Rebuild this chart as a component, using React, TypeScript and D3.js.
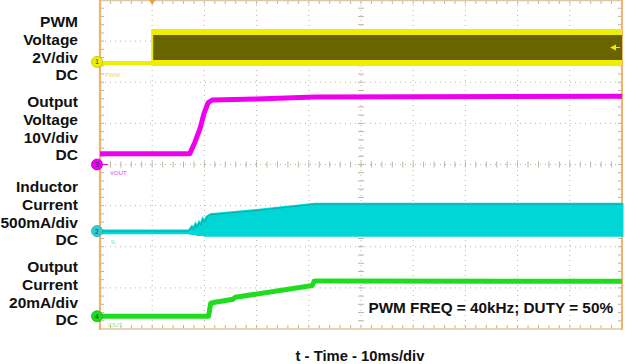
import React from "react";
import * as d3 from "d3";

// ---- Data (time in ms, 10 ms/div) ----
const pwmStart = 10; // ms
const pwmLowV = 0;
const pwmHighV = 1.5;

const voutTimes = [0, 17.2, 18.2, 19.2, 19.9, 20.7, 21.5, 30, 41.2, 60, 100];
const voutValues = [2.6, 2.6, 5.5, 8.9, 12.3, 15.0, 15.7, 15.9, 16.4, 16.5, 16.6];

const ilTimes = [0, 17.0, 17.6, 17.9, 18.3, 18.6, 19.0, 19.3, 19.7, 20.0, 20.5, 21.2, 30, 41.2, 100];
const ilMax = [0.0, 0.0, 0.05, 0.02, 0.08, 0.04, 0.1, 0.07, 0.14, 0.11, 0.17, 0.2, 0.25, 0.328, 0.328];
const ilMin = [-0.02, -0.02, -0.03, -0.03, -0.03, -0.04, -0.04, -0.04, -0.04, -0.05, -0.05, -0.05, -0.05, -0.05, -0.05];

const ioutTimes = [0, 20.8, 21.2, 22.0, 25.5, 25.9, 40.7, 41.0, 41.5, 100];
const ioutValues = [0, 0, 6.3, 6.8, 8.3, 9.2, 15.0, 17.0, 17.2, 17.0];

const channelLabels = [
  ["PWM", "Voltage", "2V/div", "DC"],
  ["Output", "Voltage", "10V/div", "DC"],
  ["Inductor", "Current", "500mA/div", "DC"],
  ["Output", "Current", "20mA/div", "DC"],
];
const labelTops = [27, 107, 192, 272];
const annotation = "PWM FREQ = 40kHz; DUTY = 50%";
const xTitle = "t - Time - 10ms/div";

// channel settings: units/div and ground position (div from center)
const CH_PWM = { perDiv: 2, offset: 2.47 };
const CH_VOUT = { perDiv: 10, offset: 0 };
const CH_IL = { perDiv: 0.5, offset: -1.62 };
const CH_IOUT = { perDiv: 20, offset: -3.69 };

const W = 625;
const H = 364;
const X0 = 100;
const X1 = 622;
const Y0 = 0;
const Y1 = 329;

const FONT = "'Liberation Sans', Arial, Helvetica, sans-serif";

export default function App() {
  const x = d3.scaleLinear().domain([0, 100]).range([X0, X1]);
  const yDiv = d3.scaleLinear().domain([-4, 4]).range([Y1, Y0]);
  const yCh = (ch: { perDiv: number; offset: number }) => (v: number) =>
    yDiv(ch.offset + v / ch.perDiv);

  const yP = yCh(CH_PWM);
  const yV = yCh(CH_VOUT);
  const yI = yCh(CH_IL);
  const yO = yCh(CH_IOUT);

  const grid: JSX.Element[] = [];
  const gridColor = "#bdb5a6";
  for (let i = 1; i < 10; i++) {
    const gx = x(i * 10);
    grid.push(
      <line key={"gv" + i} x1={gx} x2={gx} y1={Y0} y2={Y1} stroke={gridColor} strokeWidth={1} strokeDasharray="1,4" />
    );
  }
  for (let j = -3; j <= 3; j++) {
    const gy = yDiv(j);
    grid.push(
      <line key={"gh" + j} x1={X0} x2={X1} y1={gy} y2={gy} stroke={gridColor} strokeWidth={1} strokeDasharray="1,4" />
    );
  }
  const cx = x(50);
  const cy = yDiv(0);
  for (let k = 1; k < 50; k++) {
    const tx = x(k * 2);
    grid.push(<line key={"tc" + k} x1={tx} x2={tx} y1={cy - 3} y2={cy + 3} stroke={gridColor} strokeWidth={1} />);
    grid.push(<line key={"tt" + k} x1={tx} x2={tx} y1={Y0} y2={Y0 + 4} stroke={gridColor} strokeWidth={1} />);
    grid.push(<line key={"tb" + k} x1={tx} x2={tx} y1={Y1 - 4} y2={Y1} stroke={gridColor} strokeWidth={1} />);
  }
  for (let k = 1; k < 40; k++) {
    const ty = yDiv(-4 + k * 0.2);
    grid.push(<line key={"vc" + k} x1={cx - 3} x2={cx + 3} y1={ty} y2={ty} stroke={gridColor} strokeWidth={1} />);
    grid.push(<line key={"vl" + k} x1={X0} x2={X0 + 4} y1={ty} y2={ty} stroke={gridColor} strokeWidth={1} />);
    grid.push(<line key={"vr" + k} x1={X1 - 4} x2={X1} y1={ty} y2={ty} stroke={gridColor} strokeWidth={1} />);
  }

  const pwmLowLine = d3.line<number>().x((t) => x(t)).y(() => yP(pwmLowV))([0, pwmStart]);
  const pwmTopLine = d3.line<number>().x((t) => x(t)).y(() => yP(pwmHighV))([pwmStart, 100]);
  const pwmBotLine = d3.line<number>().x((t) => x(t)).y(() => yP(pwmLowV))([pwmStart, 100]);
  const pwmArea = d3.area<number>()
    .x((t) => x(t))
    .y0(() => yP(pwmLowV))
    .y1(() => yP(pwmHighV))([pwmStart, 100]);

  const voutIdx = d3.range(voutTimes.length);
  const voutPath = d3.line<number>().x((i) => x(voutTimes[i])).y((i) => yV(voutValues[i]))(voutIdx);

  const ilIdx = d3.range(ilTimes.length);
  const ilArea = d3.area<number>()
    .x((i) => x(ilTimes[i]))
    .y0((i) => yI(ilMin[i]))
    .y1((i) => yI(ilMax[i]))(ilIdx);
  const ilTop = d3.line<number>().x((i) => x(ilTimes[i])).y((i) => yI(ilMax[i]))(ilIdx);

  const ioutIdx = d3.range(ioutTimes.length);
  const ioutPath = d3.line<number>().x((i) => x(ioutTimes[i])).y((i) => yO(ioutValues[i]))(ioutIdx);

  const yellow = "#eeee00";
  const olive = "#686400";
  const magenta = "#ee00ee";
  const cyan = "#00d6d6";
  const green = "#1fdc1f";
  const frame = "#f2b36c";

  const marker = (cyv: number, color: string, num: string, key: string) => (
    <g key={key}>
      <circle cx={97} cy={cyv} r={5.5} fill={color} stroke={d3.color(color)!.darker(0.6).toString()} strokeWidth={0.8} />
      <text x={97} y={cyv + 2.5} fontSize={7} fontFamily={FONT} textAnchor="middle" fill="#333">{num}</text>
    </g>
  );

  return (
    <svg width={W} height={H} style={{ position: "absolute", left: 0, top: 0, background: "#fff" }}>
      <rect x={0} y={0} width={W} height={H} fill="#fff" />
      {grid}
      <line x1={X0} x2={X1} y1={Y0 + 0.5} y2={Y0 + 0.5} stroke="#d9c8a8" strokeWidth={1.5} />
      <line x1={X0} x2={X1} y1={Y1} y2={Y1} stroke="#e0c49a" strokeWidth={1.5} />
      <line x1={X0} x2={X0} y1={Y0} y2={Y1 + 1} stroke={frame} strokeWidth={2.2} />
      <line x1={X1} x2={X1} y1={Y0} y2={Y1 + 1} stroke={frame} strokeWidth={2} />

      <path d={pwmArea || ""} fill={olive} />
      <path d={pwmLowLine || ""} fill="none" stroke={yellow} strokeWidth={4} />
      <path d={pwmTopLine || ""} fill="none" stroke={yellow} strokeWidth={6} />
      <path d={pwmBotLine || ""} fill="none" stroke={yellow} strokeWidth={6} />
      <line x1={x(pwmStart)} x2={x(pwmStart)} y1={yP(pwmLowV)} y2={yP(pwmHighV) - 3} stroke={yellow} strokeWidth={2} />

      <path d={voutPath || ""} fill="none" stroke={magenta} strokeWidth={5} strokeLinejoin="round" />

      <path d={ilArea || ""} fill={cyan} stroke={cyan} strokeWidth={3} />
      <path d={ilTop || ""} fill="none" stroke="#149c9c" strokeWidth={0.8} />

      <path d={ioutPath || ""} fill="none" stroke={green} strokeWidth={5} strokeLinejoin="round" />

      <path d={`M${x(pwmStart) - 3},0 L${x(pwmStart) + 3},0 L${x(pwmStart)},5 Z`} fill="#e8a040" />
      <path d={`M${X1 - 12},${yP(0.75)} L${X1 - 6},${yP(0.75) - 3} L${X1 - 6},${yP(0.75) + 3} Z`} fill={yellow} />
      <line x1={X1 - 6} x2={X1 - 2} y1={yP(0.75)} y2={yP(0.75)} stroke={yellow} strokeWidth={1} />

      {marker(yP(0) - 1, yellow, "1", "m1")}
      {marker(yV(0), magenta, "3", "m3")}
      {marker(yI(0), "#30d0d0", "2", "m2")}
      {marker(yO(0), green, "4", "m4")}
      <line x1={102} x2={108} y1={yV(0)} y2={yV(0)} stroke={magenta} strokeWidth={1} />

      <text x={105} y={yP(0) + 14} fontSize={6} fontFamily={FONT} fill="#e6d860">PWM</text>
      <text x={110} y={yV(0) + 10} fontSize={6} fontFamily={FONT} fill="#e040e0">VOUT</text>
      <text x={111} y={yI(0) + 13} fontSize={6} fontFamily={FONT} fill="#70d8e0">IL</text>
      <text x={108} y={yO(0) + 11} fontSize={6} fontFamily={FONT} fill="#90e090">IOUT</text>

      {channelLabels.map((lines, gi) =>
        lines.map((ln, li) => (
          <text
            key={`l${gi}-${li}`}
            x={78}
            y={labelTops[gi] + li * 17.8}
            textAnchor="end"
            fontFamily={FONT}
            fontWeight="bold"
            fontSize={15.5}
            fill="#111"
          >
            {ln}
          </text>
        ))
      )}

      <text x={613} y={313} textAnchor="end" fontFamily={FONT} fontWeight="bold" fontSize={15.3} fill="#111">
        {annotation}
      </text>
      <text x={360} y={361} textAnchor="middle" fontFamily={FONT} fontWeight="bold" fontSize={14.8} fill="#111">
        {xTitle}
      </text>
    </svg>
  );
}
